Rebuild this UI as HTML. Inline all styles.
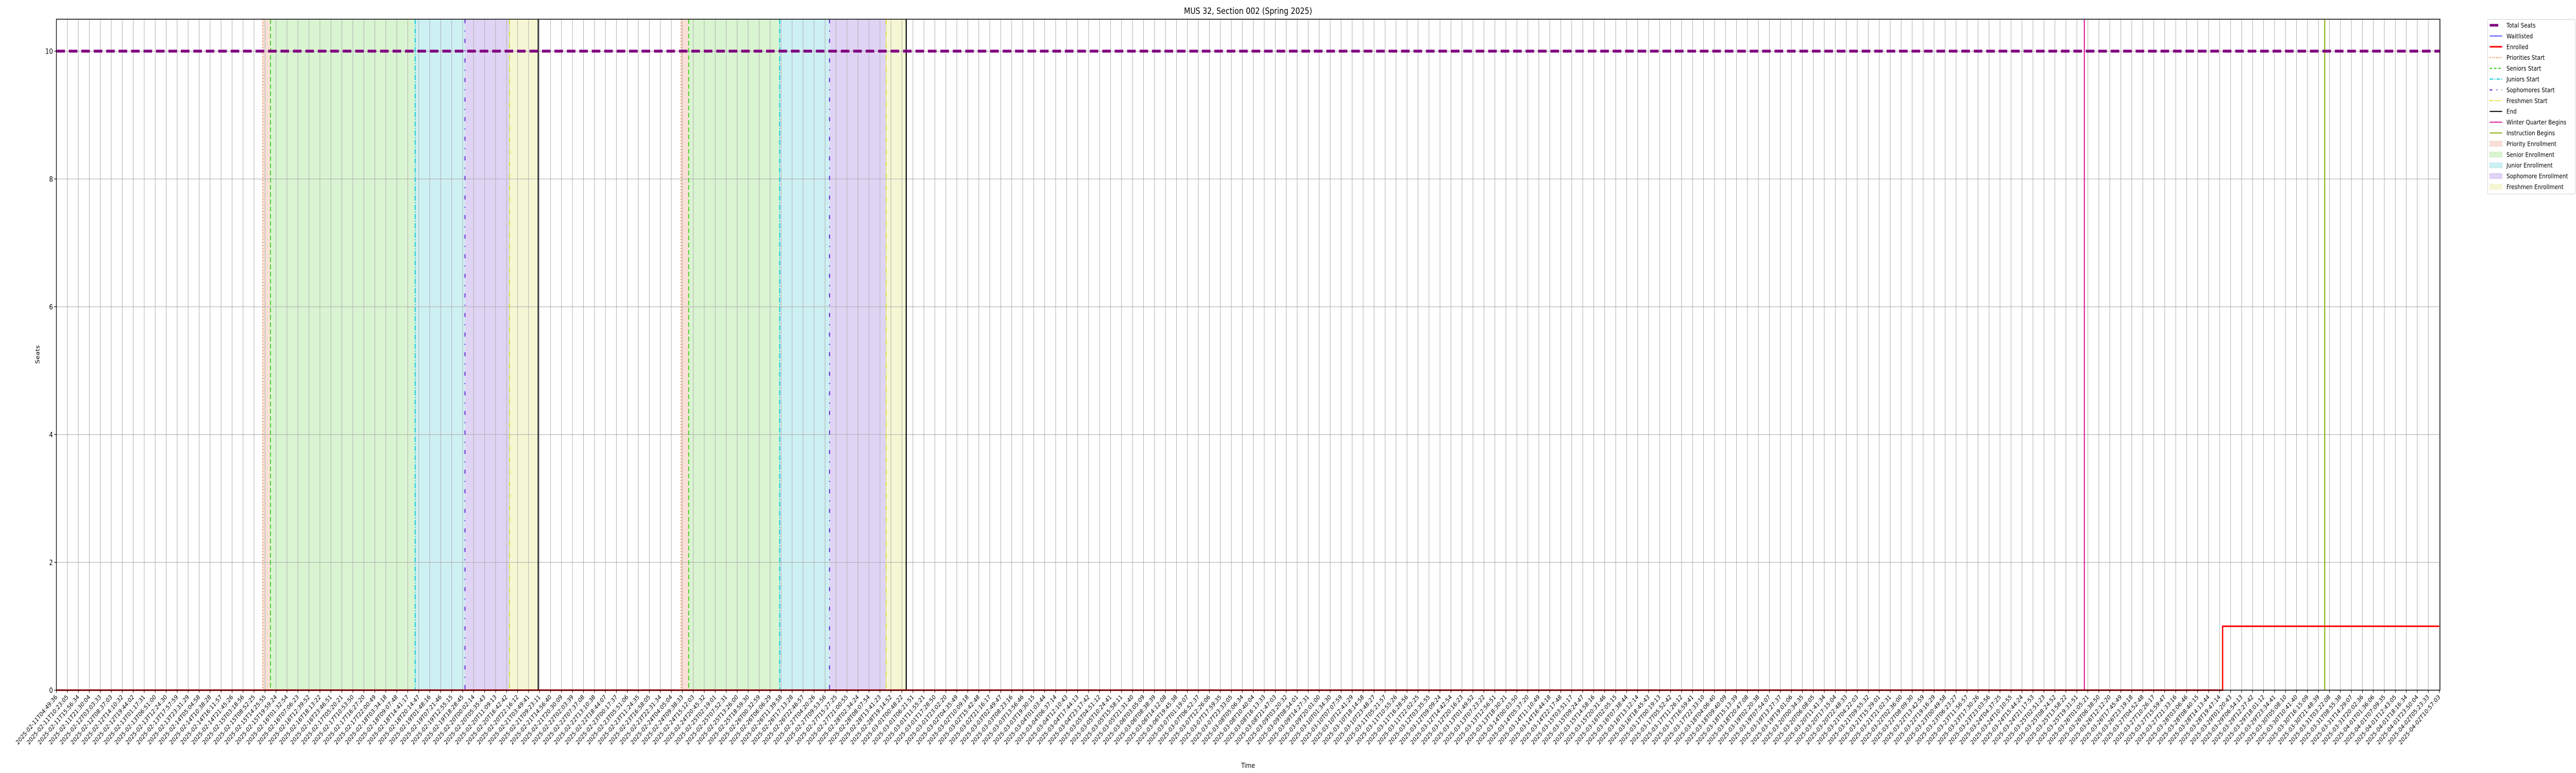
<!DOCTYPE html>
<html><head><meta charset="utf-8"><style>
html,body{margin:0;padding:0;background:#fff;width:100%;height:100%;overflow:hidden;}
svg{display:block;width:100vw;height:100vh;font-family:"DejaVu Sans","Liberation Sans",sans-serif;}
</style></head><body>
<svg id="chart" viewBox="0 0 6000 1500" preserveAspectRatio="none" xmlns="http://www.w3.org/2000/svg">
<rect x="0" y="0" width="6000" height="1500" fill="#fff"/>
<g id="shades"></g>
<g id="grid"></g>
<g id="events"></g>
<g id="series"></g>
<g id="axes"></g>
<text x="2907" y="27" font-size="17" text-anchor="middle">MUS 32, Section 002 (Spring 2025)</text>
<text x="2907" y="1490" font-size="13" text-anchor="middle">Time</text>
<text x="92" y="688" font-size="13" text-anchor="middle" transform="rotate(-90 92 688)">Seats</text>
<g id="legend"></g>
</svg>
<script>
// ---- data ----
const tickStart = "2025-02-11T04:49:36";
const tickEnd = "2025-04-02T10:57:03";
const tickCount = 218;
const yTicks = [0, 2, 4, 6, 8, 10];
const totalSeats = [10];
const waitlistedX = [0, 217];
const waitlistedY = [0, 0];
const enrolledX = [0, 197.27, 217];
const enrolledY = [0, 1, 1];
const prioritiesStart = [18.79, 56.88];
const seniorsStart = [19.50, 57.58];
const juniorsStart = [32.67, 65.87];
const sophomoresStart = [37.21, 70.41];
const freshmenStart = [41.27, 75.56];
const endTimes = [43.88, 77.39];
const winterQuarterBegins = [184.68];
const instructionBegins = [206.57];

// ---- axes ----
const L = 131.3, R = 5683.3, T = 37.3, B = 1339.3;
const xMax = 217.07, yMin = 0, yMax = 10.5;
const xs = i => L + (i / xMax) * (R - L);
const ys = v => B - (v - yMin) / (yMax - yMin) * (B - T);
const NS = "http://www.w3.org/2000/svg";
function mk(tag, attrs, parent) {
  const e = document.createElementNS(NS, tag);
  for (const k in attrs) e.setAttribute(k, attrs[k]);
  parent.appendChild(e);
  return e;
}
const shades = document.getElementById('shades');
const grid = document.getElementById('grid');
const events = document.getElementById('events');
const series = document.getElementById('series');
const axes = document.getElementById('axes');
const legend = document.getElementById('legend');

const periods = [
  [prioritiesStart, seniorsStart, 'rgba(232,130,90,0.25)', 'priority-enrollment'],
  [seniorsStart, juniorsStart, 'rgba(120,215,90,0.28)', 'senior-enrollment'],
  [juniorsStart, sophomoresStart, 'rgba(90,205,215,0.3)', 'junior-enrollment'],
  [sophomoresStart, freshmenStart, 'rgba(160,120,225,0.32)', 'sophomore-enrollment'],
  [freshmenStart, endTimes, 'rgba(225,230,120,0.32)', 'freshmen-enrollment']
];
periods.forEach(p => {
  p[0].forEach((s, k) => {
    const r = mk('rect', {x: xs(s), y: T, width: xs(p[1][k]) - xs(s), height: B - T, fill: p[2]}, shades);
    
    
  });
});

function pad(n){return String(n).padStart(2,'0');}
const t0 = Date.parse(tickStart + 'Z'), t1 = Date.parse(tickEnd + 'Z');
const tickLabels = [];
for (let i = 0; i < tickCount; i++) {
  const d = new Date(t0 + (t1 - t0) * i / (tickCount - 1));
  tickLabels.push(d.getUTCFullYear() + '-' + pad(d.getUTCMonth()+1) + '-' + pad(d.getUTCDate()) + 'T' + pad(d.getUTCHours()) + ':' + pad(d.getUTCMinutes()) + ':' + pad(d.getUTCSeconds()));
}
tickLabels[0] = tickStart; tickLabels[tickCount-1] = tickEnd;

tickLabels.forEach((lab, i) => {
  const x = xs(i);
  const g = mk('line', {x1: x, x2: x, y1: T, y2: B, stroke: '#b0b0b0', 'stroke-width': 1.2}, grid);
  
  
  const tk = mk('line', {x1: x, x2: x, y1: B, y2: B + 5, stroke: '#000', 'stroke-width': 1.2}, axes);
  
  
  const tx = mk('text', {x: x + 3, y: B + 14, 'font-size': 12, 'text-anchor': 'end', transform: 'rotate(-45 ' + (x + 3) + ' ' + (B + 14) + ')'}, axes);
  tx.textContent = lab;
  
  
});
yTicks.forEach(v => {
  const y = ys(v);
  const g = mk('line', {x1: L, x2: R, y1: y, y2: y, stroke: '#b0b0b0', 'stroke-width': 1.2}, grid);
  
  
  const tk = mk('line', {x1: L - 5, x2: L, y1: y, y2: y, stroke: '#000', 'stroke-width': 1.2}, axes);
  
  
  const tx = mk('text', {x: L - 8, y: y + 5, 'font-size': 14, 'text-anchor': 'end'}, axes);
  tx.textContent = v;
  
  
});
const frame = mk('rect', {x: L, y: T, width: R - L, height: B - T, fill: 'none', stroke: '#000', 'stroke-width': 1.5}, axes);



const evDefs = [
  [prioritiesStart, '#e8702a', '2 4', 2, 'priorities-start-line'],
  [seniorsStart, '#33cc11', '9 5', 2, 'seniors-start-line'],
  [juniorsStart, '#00c8d8', '10 3 2 3', 2.2, 'juniors-start-line'],
  [sophomoresStart, '#6a28d8', '8 14 2 14', 2.4, 'sophomores-start-line'],
  [freshmenStart, '#dede22', '10 3 2 3 2 3', 2, 'freshmen-start-line'],
  [endTimes, '#000000', null, 2.5, 'end-line'],
  [winterQuarterBegins, '#e0189e', null, 2.5, 'winter-quarter-begins-line'],
  [instructionBegins, '#88b410', null, 2.5, 'instruction-begins-line']
];
evDefs.forEach(d => {
  d[0].forEach(v => {
    const a = {x1: xs(v), x2: xs(v), y1: T, y2: B, stroke: d[1], 'stroke-width': d[3]};
    if (d[2]) a['stroke-dasharray'] = d[2];
    const l = mk('line', a, events);
    
    
  });
});

const ts = mk('line', {x1: L, x2: R, y1: ys(totalSeats[0]), y2: ys(totalSeats[0]), stroke: '#800080', 'stroke-width': 5.5, 'stroke-dasharray': '20 9'}, series);


const wl = mk('polyline', {points: waitlistedX.map((x, i) => xs(x) + ',' + ys(waitlistedY[i])).join(' '), fill: 'none', stroke: '#2222ff', 'stroke-width': 1.5}, series);


let pts = [];
enrolledX.forEach((x, i) => {
  if (i > 0) pts.push(xs(x) + ',' + ys(enrolledY[i - 1]));
  pts.push(xs(x) + ',' + ys(enrolledY[i]));
});
const en = mk('polyline', {points: pts.join(' '), fill: 'none', stroke: '#ff0000', 'stroke-width': 3}, series);



const lb = mk('rect', {x: 5794, y: 37.5, width: 204, height: 339, fill: '#fff', stroke: '#d0d0d0', 'stroke-width': 1, rx: 3}, legend);


const legendEntries = [
  ['Total Seats', 'line', '#800080', 5, null, 'legend-total-seats'],
  ['Waitlisted', 'line', '#2222ff', 1.5, null, 'legend-waitlisted'],
  ['Enrolled', 'line', '#ff0000', 3, null, 'legend-enrolled'],
  ['Priorities Start', 'line', '#e8702a', 2, '2 3', 'legend-priorities-start'],
  ['Seniors Start', 'line', '#33cc11', 2, '6 4', 'legend-seniors-start'],
  ['Juniors Start', 'line', '#00c8d8', 2, '8 3 2 3', 'legend-juniors-start'],
  ['Sophomores Start', 'line', '#6a28d8', 2.4, '6 10 2 10', 'legend-sophomores-start'],
  ['Freshmen Start', 'line', '#dede22', 2, '6 2 2 2 2 2', 'legend-freshmen-start'],
  ['End', 'line', '#000', 2, null, 'legend-end'],
  ['Winter Quarter Begins', 'line', '#e0189e', 2, null, 'legend-winter-quarter'],
  ['Instruction Begins', 'line', '#88b410', 2, null, 'legend-instruction-begins'],
  ['Priority Enrollment', 'patch', 'rgba(232,130,90,0.25)', 0, null, 'legend-priority-enrollment'],
  ['Senior Enrollment', 'patch', 'rgba(120,215,90,0.28)', 0, null, 'legend-senior-enrollment'],
  ['Junior Enrollment', 'patch', 'rgba(90,205,215,0.3)', 0, null, 'legend-junior-enrollment'],
  ['Sophomore Enrollment', 'patch', 'rgba(160,120,225,0.32)', 0, null, 'legend-sophomore-enrollment'],
  ['Freshmen Enrollment', 'patch', 'rgba(225,230,120,0.32)', 0, null, 'legend-freshmen-enrollment']
];
legendEntries.forEach((e, k) => {
  const y = 49 + k * 20.9;
  const g = mk('g', {}, legend);
  
  
  if (e[1] === 'line') {
    const x2 = k === 0 ? 5819 : 5828;
    const a = {x1: 5799, x2: x2, y1: y, y2: y, stroke: e[2], 'stroke-width': e[3]};
    if (e[4]) a['stroke-dasharray'] = e[4];
    mk('line', a, g);
  } else {
    mk('rect', {x: 5799, y: y - 5, width: 29, height: 10, fill: e[2], stroke: e[2]}, g);
  }
  const t = mk('text', {x: 5838, y: y + 4.5, 'font-size': 12.5}, g);
  t.textContent = e[0];
});
</script>
</body></html>
